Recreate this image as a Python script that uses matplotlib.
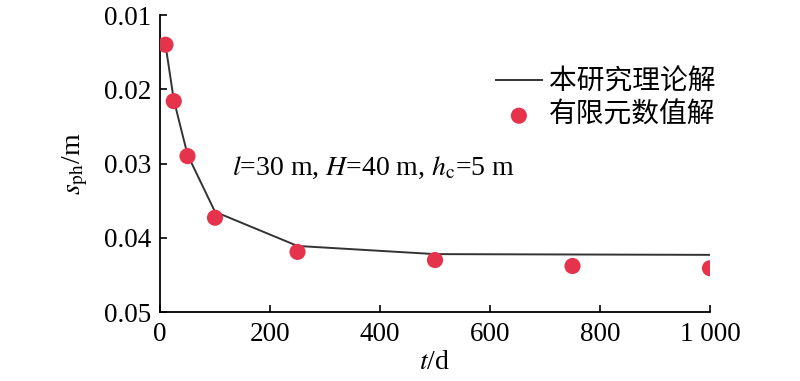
import matplotlib
matplotlib.use("Agg")
import matplotlib.pyplot as plt

# -----------------------------
# data
# -----------------------------
t_line = [10, 25, 50, 100, 250, 500, 1000]
s_line = [0.0140, 0.0214, 0.0288, 0.0365, 0.0411, 0.0422, 0.0423]

t_fem = [10, 25, 50, 100, 250, 500, 750, 1000]
s_fem = [0.0140, 0.0216, 0.0290, 0.0373, 0.0419, 0.0430, 0.0438, 0.0441]

x_ticks = [0, 200, 400, 600, 800, 1000]
x_labels = ["0", "200", "400", "600", "800", "1 000"]
y_ticks = [0.01, 0.02, 0.03, 0.04, 0.05]
y_labels = ["0.01", "0.02", "0.03", "0.04", "0.05"]

legend_labels = ["本研究理论解", "有限元数值解"]

plt.rcParams["font.family"] = ["Liberation Serif", "Noto Sans CJK SC"]
plt.rcParams["mathtext.fontset"] = "stix"

fig = plt.figure(figsize=(8, 3.81), dpi=100)
ax = fig.add_axes([0.2, 0.181, 0.6875, 0.7796])

ax.plot(t_line, s_line, color="#333333", lw=1.4, label=legend_labels[0], zorder=2)
ax.scatter(t_fem, s_fem, s=135, color="#E5334B", edgecolors="none",
           label=legend_labels[1], zorder=3)

ax.set_xlim(0, 1000)
ax.set_ylim(0.05, 0.01)
ax.set_xticks(x_ticks)
ax.set_xticklabels(x_labels)
ax.set_yticks(y_ticks)
ax.set_yticklabels(y_labels)

for side in ["top", "right"]:
    ax.spines[side].set_visible(False)
for side in ["left", "bottom"]:
    ax.spines[side].set_linewidth(1.3)
ax.tick_params(direction="in", length=5, width=1.2, labelsize=19.5)
ax.tick_params(axis="x", pad=7)
ax.tick_params(axis="y", pad=6)

ax.set_xlabel(r"$t$/d", fontsize=20, labelpad=2)
ax.set_ylabel(r"$s_{\rm ph}$/m", fontsize=20, labelpad=10)

ax.text(131, 0.0306, r"$l$=30 m, $H$=40 m, $h_{\rm c}$=5 m", fontsize=20,
        va="center", ha="left")

ax.legend(loc="upper right", bbox_to_anchor=(1.055, 0.90), frameon=False,
          fontsize=20, handlelength=1.65, handletextpad=0.25, labelspacing=0.25)

fig.savefig("out.png", dpi=100)
plt.close()
